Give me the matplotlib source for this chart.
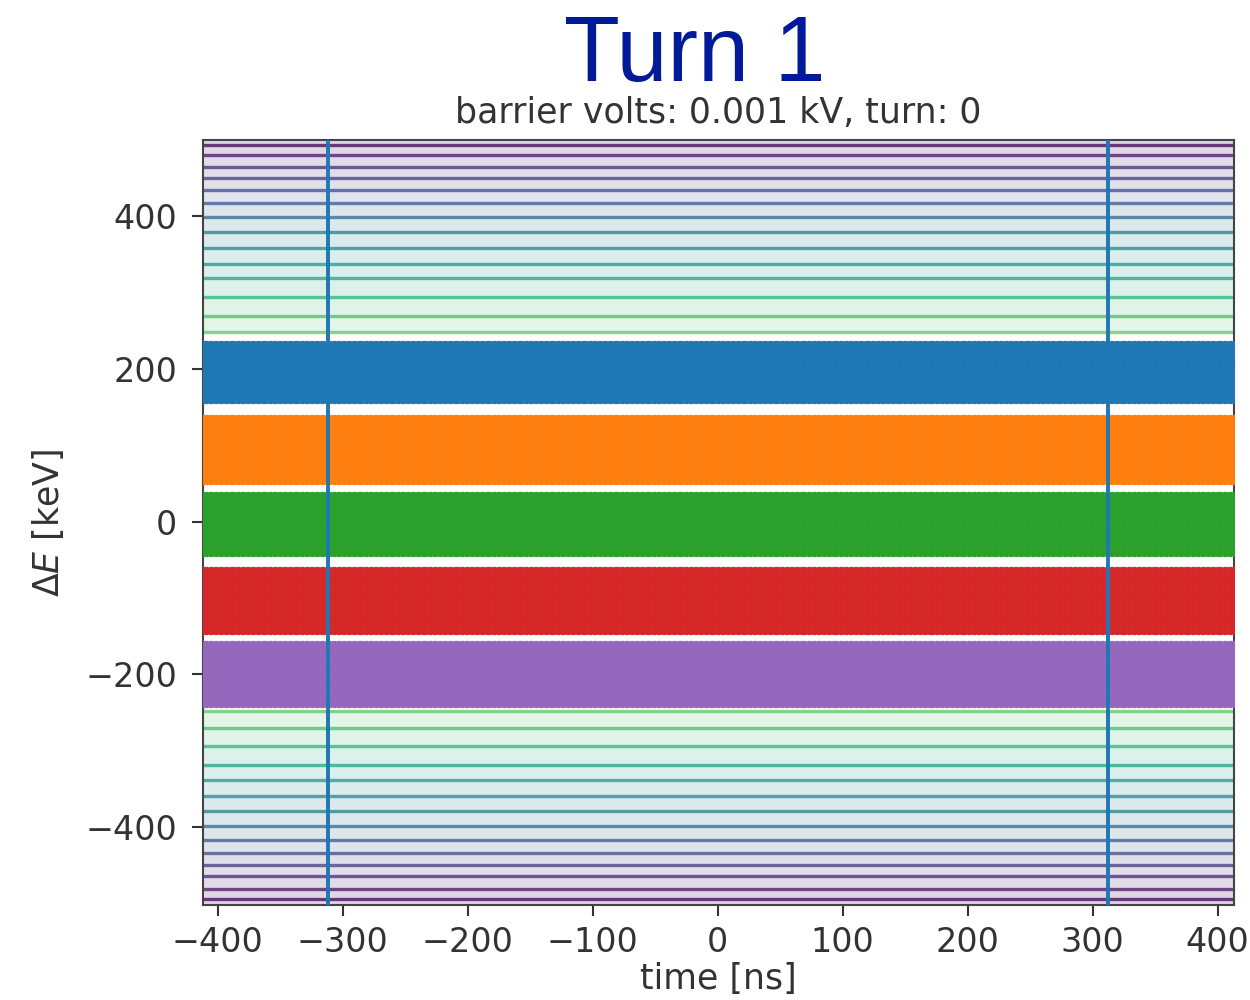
import numpy as np
import matplotlib
matplotlib.use("Agg")
import matplotlib.pyplot as plt

# contour energies (keV), mirrored for the lower half
# (the ones below ~248 keV sit under the particles and are not drawn)
contour_dE = [55, 134, 180, 217, 248, 270, 294, 319, 338, 359, 379, 399, 417, 434, 450, 464, 481, 494]
visible_from = 248

# particle bands: (low, high) in keV and colours
band_low = [157, 51, -43, -146, -241]
band_high = [236, 139, 38, -61, -158]
band_colors = ["#1f77b4", "#ff7f0e", "#2ca02c", "#d62728", "#9467bd"]

barrier_t = [-312, 312]
t_range = [-412, 413]
dE_range = [-502, 500]

title = "Turn 1"
subtitle = "barrier volts: 0.001 kV, turn: 0"

fig = plt.figure(figsize=(12.5, 10), dpi=100)
ax = fig.add_axes([0.162, 0.095, 0.825, 0.765])

# Hamiltonian with ~zero barrier voltage: depends only on dE
t_grid = np.linspace(t_range[0], t_range[1], 50)
e_grid = np.linspace(dE_range[0], dE_range[1], 1200)
T, E = np.meshgrid(t_grid, e_grid)
H = E ** 2

levels = np.square(np.array(contour_dE, dtype=float))
norm = matplotlib.colors.Normalize(vmin=0, vmax=levels.max())
shown = levels[levels >= visible_from ** 2]
fill_levels = np.concatenate([shown, [dE_range[0] ** 2 + 1]])
ax.contourf(T, E, H, levels=fill_levels, cmap="viridis_r", norm=norm, alpha=0.16)
ax.contour(T, E, H, levels=shown, cmap="viridis_r", norm=norm, linewidths=2.4, alpha=0.75)

# particles
t_pts = np.linspace(t_range[0], t_range[1], 420)
for lo, hi, c in zip(band_low, band_high, band_colors):
    e_pts = np.linspace(lo, hi, 45)
    tt, ee = np.meshgrid(t_pts, e_pts)
    ax.scatter(tt.ravel(), ee.ravel(), s=6, color=c, linewidths=0, zorder=3)

for tb in barrier_t:
    ax.axvline(tb, color="#1f77b4", lw=2.8, zorder=4)

ax.set_xlim(t_range)
ax.set_ylim(dE_range)
ax.set_xticks(range(-400, 401, 100))
ax.set_yticks(range(-400, 401, 200))
ax.tick_params(labelsize=24, length=8, width=1.5, colors="#333333", pad=10)
ax.tick_params(axis="x", pad=7)
for s in ax.spines.values():
    s.set_linewidth(1.5)
    s.set_color("#444444")

ax.set_xlabel("time [ns]", fontsize=25, color="#333333", labelpad=2)
ax.set_ylabel(r"$\Delta E$ [keV]", fontsize=25, color="#333333", labelpad=14)
ax.set_title(subtitle, fontsize=25, color="#333333", pad=12)

fig.text(0.556, 0.943, title, fontsize=66, color="#001a99", ha="center", va="center",
         family=["Liberation Sans", "DejaVu Sans"])

fig.savefig("out.png", dpi=100)
